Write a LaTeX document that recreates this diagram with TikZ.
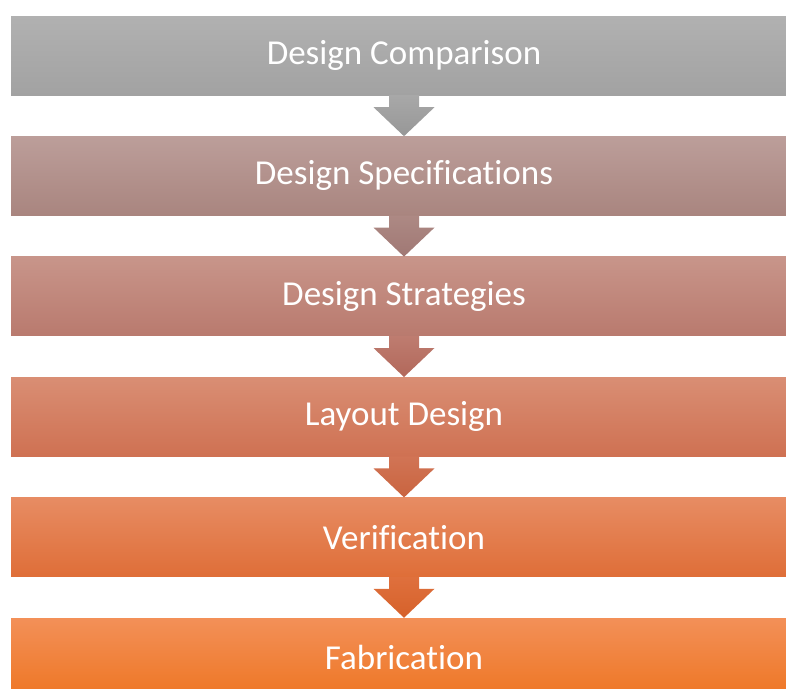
\documentclass[tikz,border=0pt]{standalone}
\usepackage{fontspec}
\setmainfont[Ligatures=NoCommon]{Carlito}
\usetikzlibrary{positioning}

% stage colours (top / bottom of each gradient)
\definecolor{compTop}{HTML}{B1B1B1}  \definecolor{compBot}{HTML}{A2A2A2}
\definecolor{specTop}{HTML}{BC9E9A}  \definecolor{specBot}{HTML}{A9857F}
\definecolor{stratTop}{HTML}{C8958A} \definecolor{stratBot}{HTML}{B97A6E}
\definecolor{layTop}{HTML}{D98E74}   \definecolor{layBot}{HTML}{CF7152}
\definecolor{verTop}{HTML}{E78C63}   \definecolor{verBot}{HTML}{DF6E38}
\definecolor{fabTop}{HTML}{F39058}   \definecolor{fabBot}{HTML}{EE7624}

% arrow colours
\definecolor{arrATop}{HTML}{A8A8A8}  \definecolor{arrABot}{HTML}{979797}
\definecolor{arrBTop}{HTML}{AD8984}  \definecolor{arrBBot}{HTML}{A07874}
\definecolor{arrCTop}{HTML}{BE7C70}  \definecolor{arrCBot}{HTML}{B2685A}
\definecolor{arrDTop}{HTML}{D17455}  \definecolor{arrDBot}{HTML}{C9643F}
\definecolor{arrETop}{HTML}{DF703D}  \definecolor{arrEBot}{HTML}{D6612A}

\tikzset{
  stage/.style={minimum width=786pt, minimum height=79pt, inner sep=0pt,
    text=white, font=\fontsize{35}{42}\selectfont},
}

\begin{document}
\begin{tikzpicture}[x=1pt,y=-1pt]

    \useasboundingbox (0,0) rectangle (786,688);

    % Stages
    \node[stage, top color=compTop, bottom color=compBot] (comp) at (404,55.5) {Design Comparison};
    \node[stage, top color=specTop, bottom color=specBot, below=41pt of comp] (spec) {Design Specifications};
    \node[stage, top color=stratTop, bottom color=stratBot, below=41pt of spec] (strat) {Design Strategies};
    \node[stage, top color=layTop, bottom color=layBot, below=41pt of strat] (lay) {Layout Design};
    \node[stage, top color=verTop, bottom color=verBot, below=41pt of lay] (ver) {Verification};
    \node[stage, top color=fabTop, bottom color=fabBot, below=41pt of ver] (fab) {Fabrication};

    % Block arrows between stages
    \foreach \a/\b/\c in {comp/spec/arrA, spec/strat/arrB, strat/lay/arrC, lay/ver/arrD, ver/fab/arrE}
    {
        \shade[top color=\c Top, bottom color=\c Bot]
            (\a.south) ++(-15,0) -- ++(0,12) -- ++(-15.5,0) -- (\b.north)
            -- ++(30.5,-29) -- ++(-15.5,0) -- ++(0,-12) -- cycle;
    }

\end{tikzpicture}
\end{document}
